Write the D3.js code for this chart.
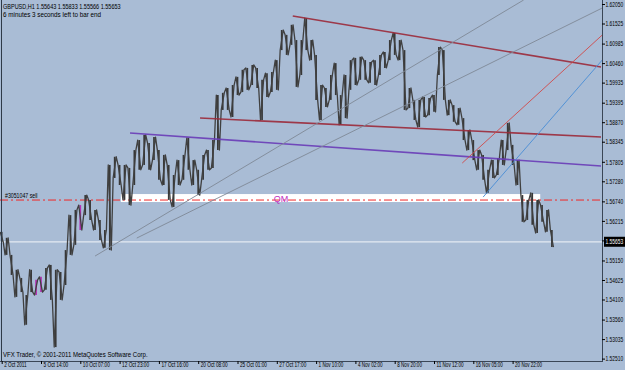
<!DOCTYPE html>
<html>
<head>
<meta charset="utf-8">
<script src="https://cdn.jsdelivr.net/npm/d3@7/dist/d3.min.js"></script>
<style>
  body { margin: 0; background: #a9bcd5; }
  svg text { font-family: "Liberation Sans", Arial, sans-serif; fill: #000; }
</style>
</head>
<body>
<script>
// GBPUSD H1, sampled every 8 bars (high / low)
var barStep = 8;
var highs = [1.5592, 1.5576, 1.5530, 1.5490, 1.5468, 1.5422, 1.5490, 1.5463, 1.5471, 1.5495,
  1.5503, 1.5490, 1.5484, 1.5543, 1.5637, 1.5651, 1.5664, 1.5691, 1.5678, 1.5651,
  1.5624, 1.5597, 1.5772, 1.5794, 1.5772, 1.5772, 1.5764, 1.5812, 1.5839, 1.5853,
  1.5831, 1.5847, 1.5812, 1.5799, 1.5772, 1.5745, 1.5785, 1.5799, 1.5845, 1.5785,
  1.5759, 1.5799, 1.5812, 1.5839, 1.5960, 1.5966, 1.5979, 1.5987, 1.6009, 1.6028,
  1.6033, 1.6041, 1.6033, 1.6001, 1.6019, 1.6022, 1.6054, 1.6135, 1.6122, 1.6149,
  1.6108, 1.6108, 1.6167, 1.6108, 1.6068, 1.5987, 1.5979, 1.6014, 1.6046, 1.5960,
  1.6014, 1.6054, 1.6060, 1.6063, 1.6054, 1.6049, 1.6054, 1.6068, 1.6076, 1.6108,
  1.6127, 1.6108, 1.6081, 1.5979, 1.5947, 1.5947, 1.5955, 1.5952, 1.5960, 1.6089,
  1.6081, 1.5947, 1.5933, 1.5925, 1.5898, 1.5866, 1.5839, 1.5812, 1.5799, 1.5759,
  1.5785, 1.5791, 1.5839, 1.5885, 1.5826, 1.5785, 1.5691, 1.5678, 1.5697, 1.5678,
  1.5664, 1.5651, 1.5597];
var lows = [1.5565, 1.5530, 1.5476, 1.5417, 1.5430, 1.5342, 1.5430, 1.5422, 1.5430, 1.5436,
  1.5409, 1.5282, 1.5409, 1.5449, 1.5530, 1.5557, 1.5597, 1.5637, 1.5624, 1.5597,
  1.5570, 1.5549, 1.5543, 1.5737, 1.5718, 1.5678, 1.5664, 1.5718, 1.5759, 1.5772,
  1.5759, 1.5785, 1.5732, 1.5718, 1.5678, 1.5659, 1.5718, 1.5732, 1.5759, 1.5718,
  1.5691, 1.5732, 1.5759, 1.5764, 1.5812, 1.5920, 1.5920, 1.5901, 1.5960, 1.5968,
  1.5974, 1.5987, 1.5979, 1.5893, 1.5955, 1.5968, 1.5974, 1.6081, 1.6068, 1.6095,
  1.5982, 1.6014, 1.6081, 1.6054, 1.5947, 1.5893, 1.5928, 1.5947, 1.5960, 1.5880,
  1.5898, 1.5974, 1.5987, 1.6001, 1.6001, 1.5993, 1.5987, 1.6014, 1.6033, 1.6054,
  1.6068, 1.6054, 1.5920, 1.5925, 1.5893, 1.5874, 1.5901, 1.5906, 1.5915, 1.6014,
  1.5947, 1.5906, 1.5888, 1.5880, 1.5839, 1.5812, 1.5785, 1.5759, 1.5732, 1.5697,
  1.5737, 1.5745, 1.5772, 1.5812, 1.5772, 1.5718, 1.5619, 1.5624, 1.5611, 1.5589,
  1.5619, 1.5592, 1.5551];
var markedBars = [7, 8, 16];

var bid = 1.55653;
var sellPrice = 1.56776;
var headerLines = ["GBPUSD,H1  1.55643 1.55833 1.55566 1.55653", "6 minutes 3 seconds left to bar end"];
var footer = "VFX Trader, \u00a9 2001-2011 MetaQuotes Software Corp.";

var yTicks = [1.62050, 1.61525, 1.60985, 1.60460, 1.59935, 1.59395, 1.58870, 1.58345, 1.57805,
  1.57280, 1.56740, 1.56215, 1.55690, 1.55150, 1.54625, 1.54100, 1.53560, 1.53035, 1.52510];
var xTickBars = [0, 64, 128, 192, 256, 320, 384, 448, 512, 576, 640, 704, 768, 832];
var xLabels = ["2 Oct 2011", "5 Oct 14:00", "10 Oct 07:00", "12 Oct 23:00", "17 Oct 16:00",
  "20 Oct 08:00", "25 Oct 01:00", "27 Oct 17:00", "1 Nov 10:00", "4 Nov 02:00",
  "8 Nov 20:00", "11 Nov 12:00", "16 Nov 05:00", "20 Nov 22:00"];

// trend lines: [bar1, price1, bar2, price2]
var trendLines = [
  { c: "#9c2a3a", w: 1.6, p: [474, 1.61727, 976, 1.60355] },
  { c: "#9c2a3a", w: 1.6, p: [323, 1.58982, 976, 1.58471] },
  { c: "#6a3cb8", w: 1.6, p: [209, 1.58579, 976, 1.57691] },
  { c: "#808a98", w: 1, p: [152, 1.55269, 850, 1.62158] },
  { c: "#808a98", w: 1, p: [220, 1.55753, 978, 1.61942] },
  { c: "#d24a4a", w: 1, p: [750, 1.57771, 978, 1.61216] },
  { c: "#4a8ed6", w: 1, p: [784, 1.56856, 978, 1.60543] }
];
var qmBox = [194, 1.56937, 877, 1.56722];
var qmBar = 455;

var svgWidth = 625, svgHeight = 370;
var plotRight = 602, plotBottom = 361;

var svg = d3.select("body").append("svg")
  .attr("width", svgWidth)
  .attr("height", svgHeight);

//scales
var x = d3.scaleLinear().domain([0, 832]).range([1.7, 512.6]);
var y = d3.scaleLinear().domain([1.52510, 1.62050]).range([358.6, 4]);

// squeeze text to a given pixel width (terminal font is narrow)
function narrow(sel, perChar) {
  sel.attr("textLength", function () { return this.textContent.length * perChar; })
    .attr("lengthAdjust", "spacingAndGlyphs");
}

var plot = svg.append("g");

// QM zone
plot.append("rect")
  .attr("x", x(qmBox[0]))
  .attr("y", y(qmBox[1]))
  .attr("width", x(qmBox[2]) - x(qmBox[0]))
  .attr("height", y(qmBox[3]) - y(qmBox[1]))
  .attr("fill", "#ffffff");

// bid line
plot.append("line")
  .attr("x1", 0).attr("x2", plotRight)
  .attr("y1", y(bid)).attr("y2", y(bid))
  .attr("stroke", "#e4eaf2").attr("stroke-width", 1.2);

// sell order line
plot.append("line")
  .attr("x1", 0).attr("x2", plotRight)
  .attr("y1", y(sellPrice)).attr("y2", y(sellPrice))
  .attr("stroke", "#f02828").attr("stroke-width", 1)
  .attr("stroke-dasharray", "8,3,2,3");

plot.append("text")
  .attr("x", 5).attr("y", y(sellPrice) - 2.5)
  .attr("font-size", 7)
  .text("#3051047 sell")
  .call(narrow, 2.5);

//price bars
var bars = d3.range(highs.length);
plot.append("g").selectAll("line")
  .data(bars)
  .enter().append("line")
  .attr("x1", function (i) { return x(i * barStep); })
  .attr("x2", function (i) { return x(i * barStep); })
  .attr("y1", function (i) { return y(highs[i]); })
  .attr("y2", function (i) { return y(lows[i]); })
  .attr("stroke", function (i) { return markedBars.indexOf(i) >= 0 ? "#b42cb4" : "#383838"; })
  .attr("stroke-width", 1.7);

var pts = [];
bars.forEach(function (i) {
  var a = i % 2 ? lows[i] : highs[i];
  var b = i % 2 ? highs[i] : lows[i];
  pts.push([x(i * barStep - 2.5), y(a)]);
  pts.push([x(i * barStep + 2.5), y(b)]);
});
plot.append("path")
  .attr("d", d3.line()(pts))
  .attr("fill", "none")
  .attr("stroke", "#404040")
  .attr("stroke-width", 1.3)
  .attr("stroke-linejoin", "round");

// trend lines
plot.append("g").selectAll("line")
  .data(trendLines)
  .enter().append("line")
  .attr("x1", function (d) { return x(d.p[0]); })
  .attr("y1", function (d) { return y(d.p[1]); })
  .attr("x2", function (d) { return x(d.p[2]); })
  .attr("y2", function (d) { return y(d.p[3]); })
  .attr("stroke", function (d) { return d.c; })
  .attr("stroke-width", function (d) { return d.w; })
  .attr("opacity", 0.9);

plot.append("text")
  .attr("x", x(qmBar))
  .attr("y", y(sellPrice) + 2)
  .attr("text-anchor", "middle")
  .attr("font-size", 9)
  .style("fill", "#c030c0")
  .text("QM");

// header / footer
svg.append("g").selectAll("text")
  .data(headerLines)
  .enter().append("text")
  .attr("x", 3)
  .attr("y", function (d, i) { return 9 + i * 8; })
  .attr("font-size", 7.5)
  .text(function (d) { return d; })
  .call(narrow, 2.8);

svg.append("text")
  .attr("x", 3).attr("y", 357)
  .attr("font-size", 7.5)
  .text(footer)
  .call(narrow, 2.95);

// left border
svg.append("line")
  .attr("x1", 1.5).attr("x2", 1.5)
  .attr("y1", 0).attr("y2", plotBottom)
  .attr("stroke", "#2e3a48");

//y axis
var yAxis = svg.append("g")
  .attr("transform", "translate(" + plotRight + ",0)")
  .call(d3.axisRight(y).tickValues(yTicks).tickSize(3).tickSizeOuter(0)
    .tickFormat(d3.format(".5f")));
yAxis.select(".domain").attr("d", "M0.5,0V" + plotBottom).attr("stroke", "#3a4656");
yAxis.selectAll(".tick line").attr("stroke", "#000");
yAxis.selectAll(".tick text")
  .attr("x", 0)
  .attr("transform", "translate(3.5,0) scale(0.7,1)")
  .attr("font-size", 7).attr("font-family", null);

// bid label
svg.append("rect")
  .attr("x", plotRight + 2).attr("y", y(bid) - 5)
  .attr("width", 21).attr("height", 10)
  .attr("fill", "#000");
svg.append("text")
  .attr("transform", "translate(" + (plotRight + 3.5) + "," + (y(bid) + 2.5) + ") scale(0.7,1)")
  .attr("font-size", 7)
  .style("fill", "#fff")
  .text(d3.format(".5f")(bid));

//x axis
var xAxis = svg.append("g")
  .attr("transform", "translate(0," + plotBottom + ")")
  .call(d3.axisBottom(x).tickValues(xTickBars).tickSize(3).tickSizeOuter(0)
    .tickFormat(function (d, i) { return xLabels[i]; }));
xAxis.select(".domain").attr("d", "M0," + 0.5 + "H" + (plotRight + 1)).attr("stroke", "#3a4656");
xAxis.selectAll(".tick line").attr("stroke", "#000");
xAxis.selectAll(".tick text")
  .attr("text-anchor", "start")
  .attr("x", 2).attr("y", 1.5).attr("dy", "0.71em")
  .attr("font-size", 7).attr("font-family", null)
  .call(narrow, 2.25);
</script>
</body>
</html>
